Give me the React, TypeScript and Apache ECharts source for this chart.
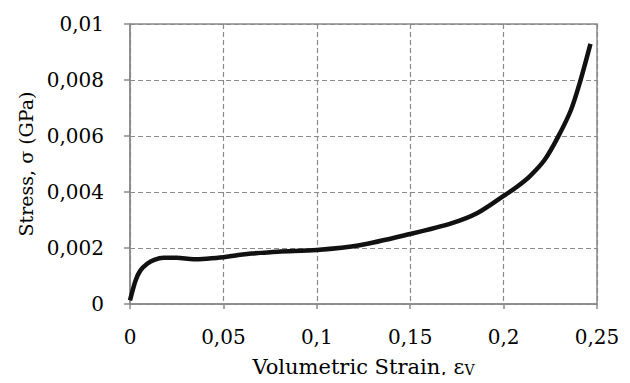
import React, { useEffect, useRef } from "react";
import * as echarts from "echarts";

const strain = [0, 0.003, 0.0056, 0.0092, 0.013, 0.018, 0.025, 0.034, 0.041, 0.05, 0.058, 0.065, 0.079, 0.1, 0.123, 0.15, 0.172, 0.186, 0.2, 0.207, 0.214, 0.222, 0.229, 0.236, 0.241, 0.2465];
const stress = [0.00013, 0.00084, 0.0012, 0.00144, 0.00158, 0.00165, 0.00165, 0.0016, 0.00162, 0.00167, 0.00175, 0.0018, 0.00187, 0.00193, 0.0021, 0.0025, 0.00288, 0.00325, 0.00386, 0.00418, 0.00456, 0.00515, 0.00595, 0.00692, 0.00795, 0.00929];

const xTitle = "Volumetric Strain, ε";
const xTitleSub = "V";
const yTitle = "Stress, σ (GPa)";

const FONT = "DejaVu Serif";
const GRID = "#8a8a8a";

const fmt = (v: number) => String(+v.toFixed(4)).replace(".", ",");

export default function App() {
  const ref = useRef<HTMLDivElement>(null);
  useEffect(() => {
    if (!ref.current) return;
    const chart = echarts.init(ref.current, undefined, { renderer: "svg" });
    chart.setOption({
      animation: false,
      backgroundColor: "#fff",
      textStyle: { fontFamily: FONT },
      grid: {
        left: 130,
        right: 33,
        top: 24,
        bottom: 79,
        show: true,
        borderColor: GRID,
        borderWidth: 1.5,
        outerBoundsMode: "none",
      },
      xAxis: {
        type: "value",
        min: 0,
        max: 0.25,
        interval: 0.05,
        name: `${xTitle}{sub|${xTitleSub}}`,
        nameLocation: "middle",
        nameGap: 52,
        nameTextStyle: {
          fontFamily: FONT,
          fontSize: 21,
          color: "#000",
          rich: { sub: { fontFamily: FONT, fontSize: 14, color: "#000", verticalAlign: "bottom", padding: [6, 0, 0, 0] } },
        },
        axisLine: { show: true, lineStyle: { color: GRID, width: 1.5 } },
        axisTick: { show: true, length: 5, lineStyle: { color: GRID, width: 1.5 } },
        axisLabel: { formatter: fmt, fontFamily: FONT, fontSize: 20, color: "#000", margin: 23 },
        splitLine: { show: true, lineStyle: { color: GRID, type: [5, 3], width: 1.2 } },
      },
      yAxis: {
        type: "value",
        min: 0,
        max: 0.01,
        interval: 0.002,
        name: yTitle,
        nameLocation: "middle",
        nameGap: 95,
        nameTextStyle: { fontFamily: FONT, fontSize: 19, color: "#000" },
        axisLine: { show: true, lineStyle: { color: GRID, width: 1.5 } },
        axisTick: { show: true, length: 6, lineStyle: { color: GRID, width: 1.5 } },
        axisLabel: { formatter: fmt, fontFamily: FONT, fontSize: 20, color: "#000", margin: 26 },
        splitLine: { show: true, lineStyle: { color: GRID, type: [5, 3], width: 1.2 } },
      },
      series: [
        {
          type: "line",
          data: strain.map((x, i) => [x, stress[i]]),
          smooth: 0.3,
          showSymbol: false,
          lineStyle: { color: "#111", width: 4.5 },
        },
      ],
    });
    return () => chart.dispose();
  }, []);
  return <div ref={ref} style={{ width: 630, height: 383, margin: -8 }} />;
}
